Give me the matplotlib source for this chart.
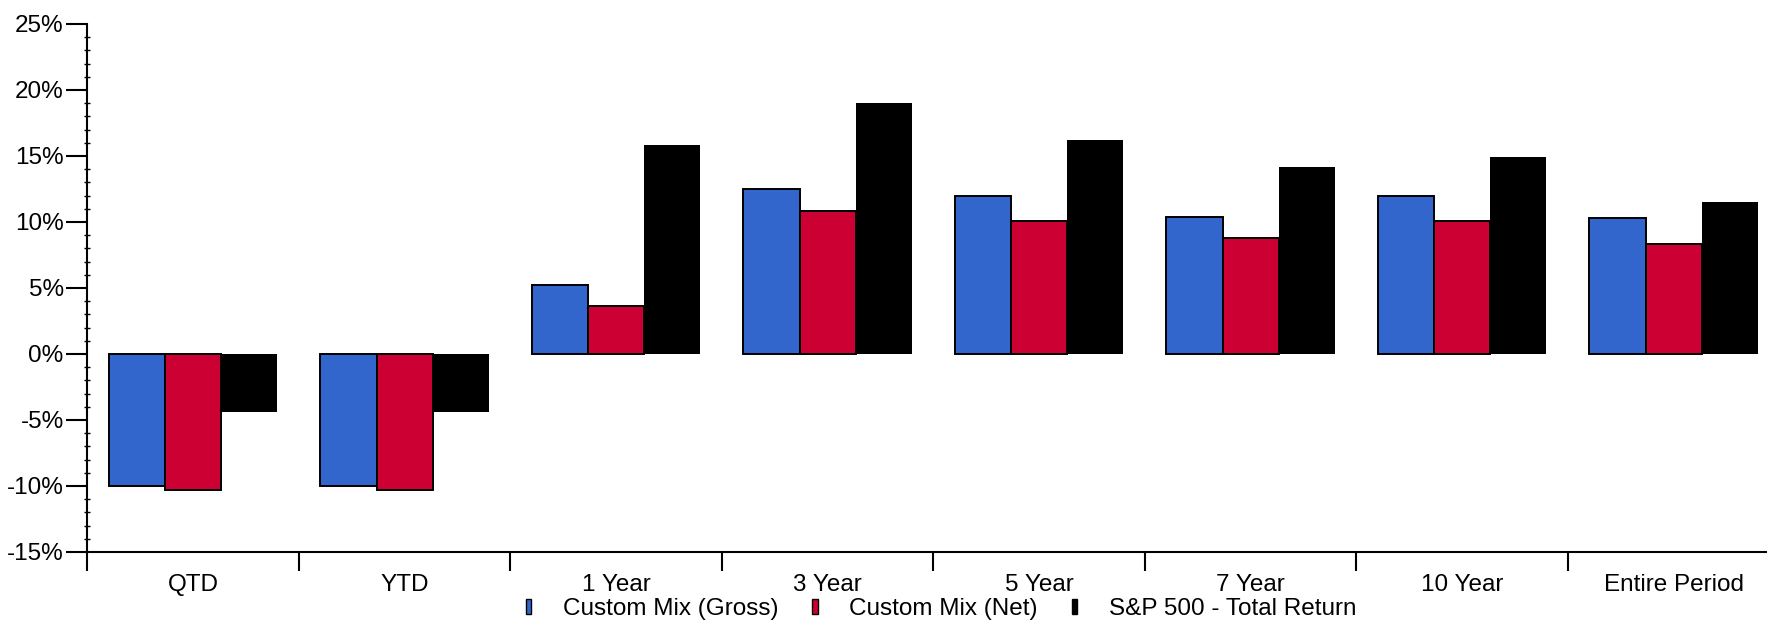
import matplotlib
matplotlib.use("Agg")
import matplotlib.pyplot as plt
from matplotlib.patches import Patch
from matplotlib.ticker import MultipleLocator, FuncFormatter
import numpy as np

plt.rcParams['font.family'] = ['Liberation Sans', 'DejaVu Sans']

categories = ["QTD", "YTD", "1 Year", "3 Year", "5 Year", "7 Year", "10 Year", "Entire Period"]
series_names = ["Custom Mix (Gross)", "Custom Mix (Net)", "S&P 500 - Total Return"]
gross = [-10.0, -10.0, 5.2, 12.5, 12.0, 10.4, 12.0, 10.3]
net = [-10.3, -10.3, 3.6, 10.8, 10.1, 8.8, 10.1, 8.3]
sp500 = [-4.4, -4.4, 15.8, 19.0, 16.2, 14.2, 14.9, 11.5]

colors = ["#3366CC", "#CC0033", "#000000"]
edges = ["#000000", "#000000", "none"]

W, H = 1767, 621
FS = 17.5
fig = plt.figure(figsize=(W / 100, H / 100), dpi=100)
ax = fig.add_axes([87.3 / W, 1 - 552 / H, 1 - 87.3 / W, (552 - 24) / H])

x = np.arange(len(categories))
bw = 0.265
for i, (vals, c, ec) in enumerate(zip([gross, net, sp500], colors, edges)):
    ax.bar(x + (i - 1) * bw, vals, width=bw, color=c, edgecolor=ec,
           linewidth=1.4 if ec != "none" else 0, zorder=2)

ax.set_ylim(-15, 25)
ax.set_xlim(-0.5, -0.5 + (W - 87.3) / 211.5)

for s in ["top", "right"]:
    ax.spines[s].set_visible(False)
for s in ["left", "bottom"]:
    ax.spines[s].set_linewidth(1.5)
    ax.spines[s].set_color("black")

ax.yaxis.set_major_locator(MultipleLocator(5))
ax.yaxis.set_minor_locator(MultipleLocator(1))
ax.yaxis.set_major_formatter(FuncFormatter(lambda v, p: f"{v:.0f}%"))
ax.tick_params(axis="y", which="major", length=15, width=1.5, direction="out",
               labelsize=FS, pad=2)
ax.tick_params(axis="y", which="minor", length=5, width=1.0, direction="inout")

# category boundary ticks on x, labels centred in each category
ax.set_xticks(np.arange(len(categories)) - 0.5)
ax.set_xticklabels([])
ax.set_xticks(x, minor=True)
ax.set_xticklabels(categories, minor=True)
ax.tick_params(axis="x", which="major", length=14, width=1.5, direction="out")
ax.tick_params(axis="x", which="minor", length=0, labelsize=FS, pad=16)

handles = [Patch(facecolor=c, edgecolor="black", linewidth=1.0) for c in colors]
fig.legend(handles, series_names, loc="center", bbox_to_anchor=(941 / W, 1 - 609 / H),
           ncol=3, frameon=False, fontsize=FS, handlelength=0.22, handleheight=0.55,
           handletextpad=1.3, columnspacing=1.4, borderpad=0, borderaxespad=0)

fig.savefig("out.png", dpi=100)
